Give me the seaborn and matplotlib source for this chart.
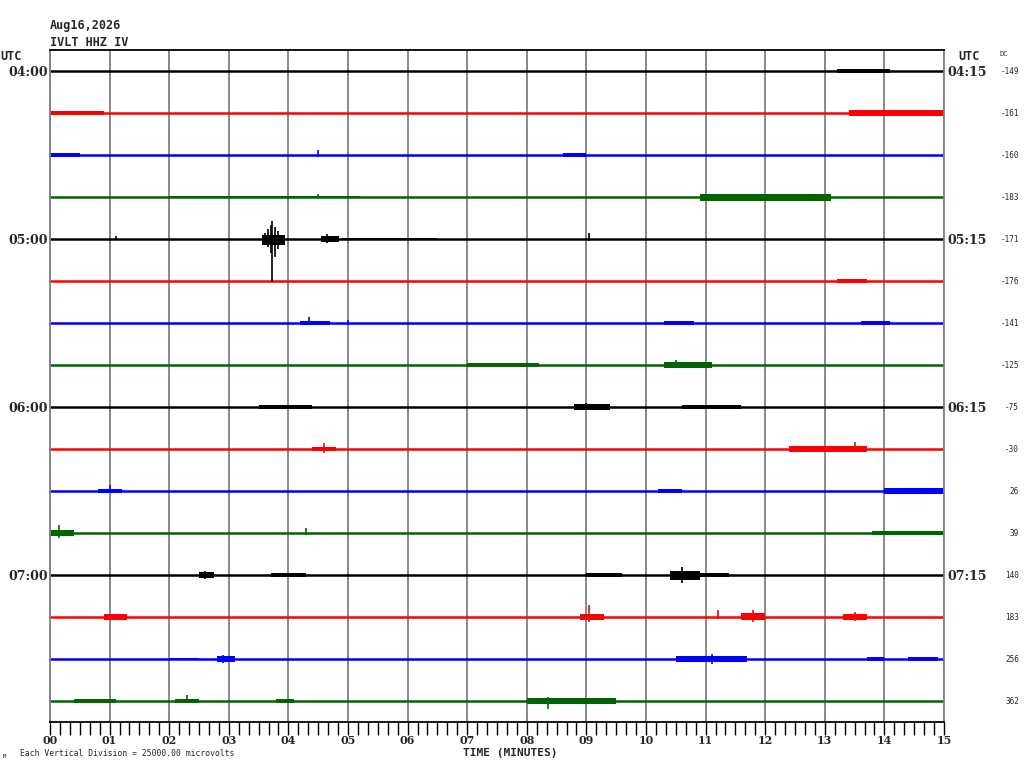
import numpy as np
import pandas as pd
import matplotlib
matplotlib.use("Agg")
import matplotlib.pyplot as plt
import seaborn as sns

sns.set_style("white")
plt.rcParams['font.family'] = ['DejaVu Sans Mono', 'DejaVu Sans']

# --- data ---
station = "IVLT HHZ IV"
date_label = "Aug16,2026"
uv_per_division = 25000.0
n_rows = 16
left_labels = {0: "04:00", 4: "05:00", 8: "06:00", 12: "07:00"}
right_labels = {0: "04:15", 4: "05:15", 8: "06:15", 12: "07:15"}
dc_offsets = [-149, -161, -160, -183, -171, -176, -141, -125,
              -75, -30, 26, 39, 140, 183, 256, 362]
minute_ticks = list(range(0, 16))
minute_labels = ["%02d" % m for m in minute_ticks]
row_colors = ["black", "red", "blue", "#006400"]

# noisy stretches: (start_min, end_min, up_uV, down_uV)
bands = {
    0: [(13.2, 14.1, 900, 900)],
    1: [(0.0, 0.9, 1200, 1200), (13.4, 15.0, 1500, 1800)],
    2: [(0.0, 0.5, 1200, 1200), (8.6, 9.0, 900, 900)],
    3: [(2.0, 5.2, 600, 600), (10.9, 13.1, 1800, 2400)],
    4: [(3.55, 3.95, 2400, 3600), (4.55, 4.85, 1800, 1800),
        (4.9, 6.5, 500, 500)],
    5: [(13.2, 13.7, 900, 900)],
    6: [(4.2, 4.7, 1000, 1000), (10.3, 10.8, 900, 900),
        (13.6, 14.1, 1200, 1200)],
    7: [(7.0, 8.2, 1000, 1000), (10.3, 11.1, 1500, 1500)],
    8: [(3.5, 4.4, 1000, 1000), (8.8, 9.4, 1500, 1500),
        (10.6, 11.6, 1000, 1000)],
    9: [(4.4, 4.8, 1000, 1000), (12.4, 13.7, 1500, 1500)],
    10: [(0.8, 1.2, 1000, 1000), (10.2, 10.6, 1000, 1000),
         (14.0, 15.0, 1800, 1800)],
    11: [(0.0, 0.4, 1800, 1500), (13.8, 15.0, 900, 900)],
    12: [(2.5, 2.75, 1500, 1500), (3.7, 4.3, 1000, 1000),
         (9.0, 9.6, 1000, 1000), (10.4, 10.9, 2400, 3000),
         (10.9, 11.4, 1000, 1000)],
    13: [(0.9, 1.3, 1500, 1500), (8.9, 9.3, 1800, 1800),
         (11.6, 12.0, 2400, 1800), (13.3, 13.7, 1500, 1500)],
    14: [(2.0, 2.5, 700, 700), (2.8, 3.1, 1500, 1500),
         (10.5, 11.7, 1800, 1800), (13.7, 14.0, 1000, 1000),
         (14.4, 14.9, 1000, 1000)],
    15: [(0.4, 1.1, 1000, 1000), (2.1, 2.5, 1000, 1000),
         (3.8, 4.1, 1000, 1000), (8.0, 9.5, 1800, 1800)],
}

# single spikes: (row, minute, up_uV, down_uV)
spikes = [
    (2, 4.5, 3000, 1200), (3, 4.5, 2000, 800),
    (4, 3.61, 3600, 2400), (4, 3.66, 6000, 4800), (4, 3.71, 8300, 8300),
    (4, 3.73, 10700, 25600), (4, 3.77, 7100, 10700), (4, 3.83, 4800, 6000),
    (4, 3.89, 2400, 3000), (4, 4.65, 3000, 2400),
    (4, 1.1, 1800, 600), (4, 9.05, 3600, 1000),
    (6, 4.35, 3600, 1200), (6, 5.0, 1800, 1200), (7, 10.5, 3000, 1500),
    (8, 9.0, 2400, 1800), (9, 4.6, 3600, 2400), (9, 13.5, 4200, 1500),
    (10, 1.0, 3600, 1200), (11, 0.15, 4800, 3000), (11, 4.3, 3000, 1200),
    (12, 2.6, 2400, 2400), (12, 10.6, 4800, 4800),
    (13, 9.05, 7100, 3000), (13, 11.2, 4200, 1200), (13, 11.8, 4200, 3000),
    (13, 13.5, 3000, 2400),
    (14, 2.9, 2400, 2400), (14, 11.1, 3000, 3000),
    (15, 2.3, 3600, 1200), (15, 8.35, 2400, 4800),
]

# --- figure ---
W, H = 1024, 768
fig = plt.figure(figsize=(W / 100, H / 100), dpi=100)
x0, x1, y_top, y_bot = 50, 944, 50, 722
ax = fig.add_axes([x0 / W, 1 - y_bot / H, (x1 - x0) / W, (y_bot - y_top) / H])


def fx(px):
    return px / W


def fy(py):
    return 1 - py / H


# baselines via seaborn
base = pd.DataFrame({
    "minute": [0.0, 15.0] * n_rows,
    "row": np.repeat(np.arange(n_rows), 2),
})
base["y"] = base["row"].astype(float)
palette = {r: row_colors[r % 4] for r in range(n_rows)}
sns.lineplot(data=base, x="minute", y="y", hue="row", units="row",
             estimator=None, palette=palette, legend=False, linewidth=1.8, ax=ax)

for r, items in bands.items():
    c = row_colors[r % 4]
    for (s, e, up, dn) in items:
        ax.fill_between([s, e], r - up / uv_per_division, r + dn / uv_per_division,
                        color=c, linewidth=0)

for (r, m, up, dn) in spikes:
    c = row_colors[r % 4]
    ax.vlines(m, r - up / uv_per_division, r + dn / uv_per_division,
              color=c, linewidth=1.2)

ax.set_xlim(0, 15)
ax.set_ylim(n_rows - 0.5, -0.5)
ax.set_yticks([])
ax.set_xticks(minute_ticks)
ax.set_xticklabels([])
ax.set_xticks(np.arange(0, 15.01, 1 / 6), minor=True)
ax.tick_params(axis="x", which="both", direction="out", length=9,
               width=1, color="black", bottom=True)
ax.grid(axis="x", which="major", color="#808080", linewidth=1.3)
ax.set_xlabel("")
ax.set_ylabel("")
for side in ["left", "right"]:
    ax.spines[side].set_color("#808080")
    ax.spines[side].set_linewidth(1.3)
for side in ["top", "bottom"]:
    ax.spines[side].set_color("black")
    ax.spines[side].set_linewidth(1.3)

# --- texts ---
fig.text(fx(50), fy(26), date_label, fontsize=8.5, fontweight="bold", va="center")
fig.text(fx(50), fy(42), station, fontsize=8.5, fontweight="bold", va="center")
fig.text(fx(0), fy(57), "UTC", fontsize=8.5, fontweight="bold", va="center")
fig.text(fx(958), fy(57), "UTC", fontsize=8.5, fontweight="bold", va="center")
fig.text(fx(999), fy(54), "DC", fontsize=5, va="center")

for r in range(n_rows):
    py = y_top + 21 + 42 * r
    if r in left_labels:
        fig.text(fx(48), fy(py + 1), left_labels[r], fontsize=9, fontweight="bold",
                 ha="right", va="center", family="DejaVu Serif")
    if r in right_labels:
        fig.text(fx(947), fy(py + 1), right_labels[r], fontsize=9, fontweight="bold",
                 ha="left", va="center", family="DejaVu Serif")
    fig.text(fx(1019), fy(py), str(dc_offsets[r]), fontsize=5.5,
             ha="right", va="center")

for m, lab in zip(minute_ticks, minute_labels):
    px = x0 + (x1 - x0) * m / 15
    fig.text(fx(px), fy(741), lab, fontsize=8, fontweight="bold",
             ha="center", va="center", family="DejaVu Serif")

fig.text(fx(510), fy(752.5), "TIME (MINUTES)", fontsize=8, fontweight="bold",
         ha="center", va="center")
fig.text(fx(20), fy(754), "Each Vertical Division = %.2f microvolts" % uv_per_division,
         fontsize=5.8, va="center")
fig.text(fx(3), fy(756), "M", fontsize=4, va="center")

fig.savefig("out.png", dpi=100)
